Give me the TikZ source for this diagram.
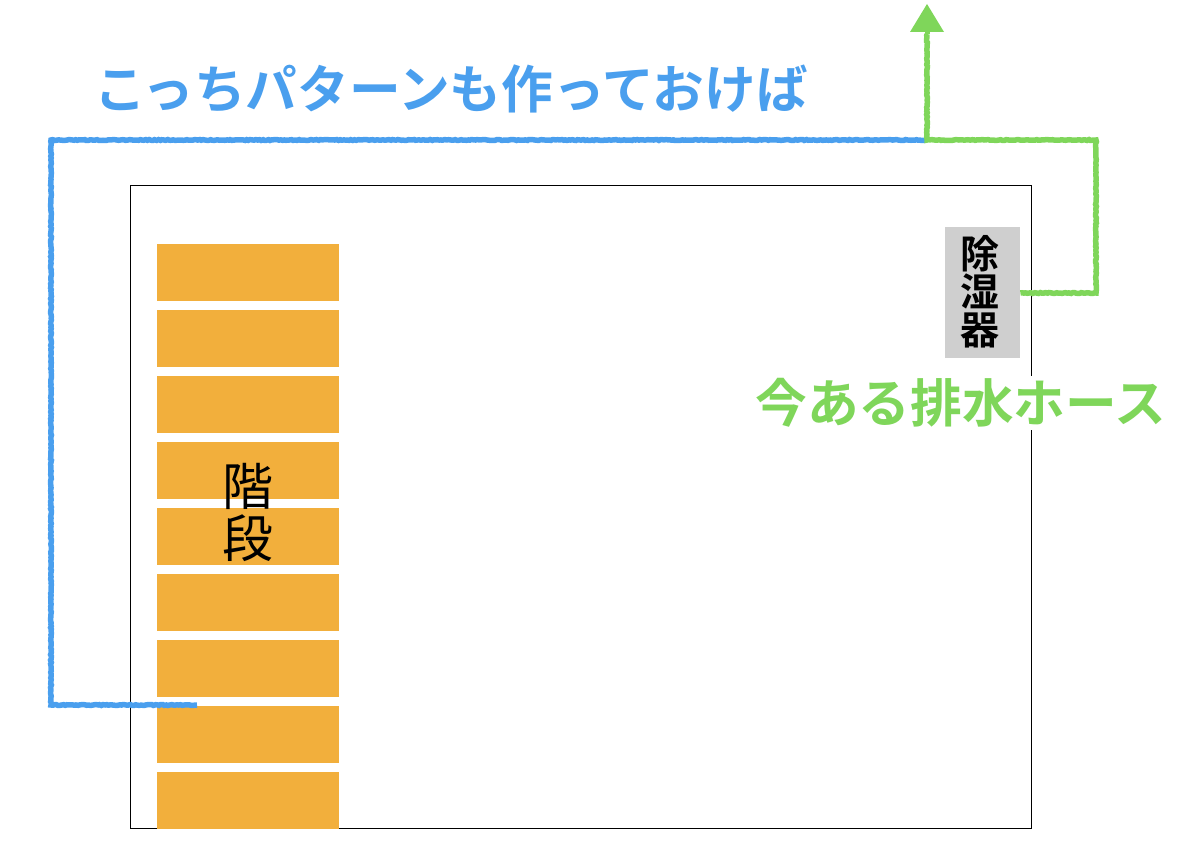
\documentclass[tikz,border=0pt]{standalone}
\usepackage{fontspec}
\setmainfont{Noto Sans CJK JP}
\newfontfamily\jpbold[Scale=1]{Noto Sans CJK JP Bold}
\usetikzlibrary{decorations.pathmorphing,arrows.meta,calc}
\definecolor{hoseblue}{HTML}{4A9FEE}
\definecolor{hosegreen}{HTML}{7FD65A}
\definecolor{stair}{HTML}{F2AF3C}
\definecolor{unit}{HTML}{CFCFCF}
\tikzset{
  x=1pt,y=-1pt,
  crayon/.style={line width=5.5pt,line join=miter,decorate,decoration={random steps,segment length=1.8pt,amplitude=0.45pt}},
  stairbox/.style={fill=stair,draw=none,minimum width=182pt,minimum height=57pt,inner sep=0pt,outer sep=0pt,anchor=north west},
  bigtext/.style={font=\jpbold\fontsize{51.7}{54}\selectfont,inner sep=0pt,anchor=center},
}
\begin{document}
\begin{tikzpicture}
\useasboundingbox (0,0) rectangle (1200,864);
\node[draw=black,line width=1.4pt,minimum width=901pt,minimum height=643pt,inner sep=0pt,anchor=north west] (room) at (130,185) {};
\foreach \n/\y in {1/244,2/310,3/376,4/442,5/508,6/574,7/640,8/706,9/772}
  \node[stairbox] (s\n) at (157,\y) {};
\node[inner sep=0pt,align=center,font=\fontsize{51}{52}\selectfont] (stairlabel) at (247.5,512.5) {階\\段};
\node[fill=unit,minimum width=75pt,minimum height=131pt,inner sep=0pt,anchor=north west] (unitbox) at (945,227) {};
\node[inner sep=0pt,align=center,font=\jpbold\fontsize{39}{38}\selectfont] (unitlabel) at (979.5,292) {除\\湿\\器};
\coordinate (bend1) at (1096,293);
\coordinate (bend2) at (1096,140);
\coordinate (junction) at (927,140);
\coordinate (riser) at (927,34);
\coordinate (tip) at (927,4);
\coordinate (bluecorner1) at (51,140);
\coordinate (bluecorner2) at (51,705);
\coordinate (blueend) at (197,705);
\draw[crayon,draw=hoseblue] (junction) -- (bluecorner1) -- (bluecorner2) -- (blueend);
\draw[crayon,draw=hosegreen] (unitbox.east |- bend1) -- (bend1) -- (bend2) -- (junction) -- (riser);
\draw[hosegreen,line width=5pt,-{Triangle[length=28pt,width=34pt,line width=0pt]}] (riser) -- (tip);
\node[bigtext,text=hoseblue] (bluelabel) at (451,89) {こっちパターンも作っておけば};
\node[bigtext,text=hosegreen,fill=white,inner ysep=2pt] (greenlabel) at (961,403) {今ある排水ホース};
\end{tikzpicture}
\end{document}
